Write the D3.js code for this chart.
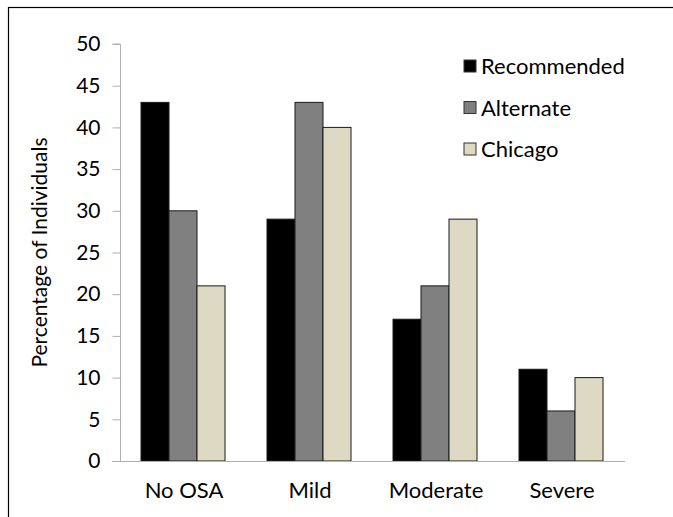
<!DOCTYPE html>
<html>
<head>
<meta charset="utf-8">
<script src="https://cdn.jsdelivr.net/npm/d3@7"></script>
<style>
  body { margin: 0; background: #fff; }
  text { font-family: Lato, "Liberation Sans", sans-serif; fill: #000; }
</style>
</head>
<body>
<div id="chart"></div>
<script>
var width = 673;
var height = 517;

// data
var categories = ["No OSA", "Mild", "Moderate", "Severe"];
var seriesNames = ["Recommended", "Alternate", "Chicago"];
var recommended = [43, 29, 17, 11];
var alternate = [30, 43, 21, 6];
var chicago = [21, 40, 29, 10];
var yTicks = [0, 5, 10, 15, 20, 25, 30, 35, 40, 45, 50];

var colors = ["#000000", "#808080", "#ddd9c3"];
var seriesValues = [recommended, alternate, chicago];

var svg = d3.select("#chart").append("svg")
    .attr("width", width)
    .attr("height", height);

// outer frame (only top and left edges are visible)
svg.append("rect")
    .attr("x", 8.5).attr("y", 7.5)
    .attr("width", 700).attr("height", 600)
    .attr("fill", "none")
    .attr("stroke", "#000")
    .attr("stroke-width", 1.2);

var x0 = d3.scaleBand()
    .domain(categories)
    .range([121, 625])
    .padding(0);

var x1 = d3.scaleBand()
    .domain(seriesNames)
    .range([20, x0.bandwidth() - 22])
    .padding(0);

var y = d3.scaleLinear()
    .domain([0, 50])
    .range([461, 44]);

// y axis
var yAxis = svg.append("g")
    .attr("transform", "translate(120.5,0)")
    .call(d3.axisLeft(y).tickValues(yTicks).tickSize(8).tickPadding(12));
yAxis.select(".domain").attr("stroke", "#b0b0b0").attr("d", "M-8," + y(50) + "H0V" + y(0));
yAxis.selectAll(".tick line").attr("stroke", "#b0b0b0");
yAxis.selectAll(".tick text")
    .style("font-size", "21px")
    .style("font-family", "Lato, sans-serif")
    .attr("fill", "#000");

// bars
var groups = svg.append("g").selectAll("g")
    .data(categories)
    .enter().append("g")
    .attr("transform", function(d) { return "translate(" + x0(d) + ",0)"; });

groups.selectAll("rect")
    .data(function(d, i) {
        return seriesNames.map(function(s, j) {
            return { series: s, value: seriesValues[j][i], color: colors[j] };
        });
    })
    .enter().append("rect")
    .attr("x", function(d) { return x1(d.series); })
    .attr("y", function(d) { return y(d.value); })
    .attr("width", x1.bandwidth())
    .attr("height", function(d) { return y(0) - y(d.value); })
    .attr("fill", function(d) { return d.color; })
    .attr("stroke", "#1a1a1a")
    .attr("stroke-width", 1);

// x axis baseline
var xAxis = svg.append("g")
    .attr("transform", "translate(0," + y(0) + ")")
    .call(d3.axisBottom(x0).tickSize(0).tickPadding(21));
xAxis.select(".domain").attr("stroke", "#b0b0b0").attr("d", "M112,0.5H625");
xAxis.selectAll(".tick text")
    .style("font-size", "22px")
    .style("font-family", "Lato, sans-serif")
    .attr("fill", "#000");

// y title
svg.append("text")
    .attr("transform", "translate(47," + ((y(0) + y(50)) / 2) + ") rotate(-90)")
    .attr("text-anchor", "middle")
    .style("font-size", "21px")
    .text("Percentage of Individuals");

// legend
var legend = svg.append("g").selectAll("g")
    .data(seriesNames)
    .enter().append("g")
    .attr("transform", function(d, i) { return "translate(464," + (60 + i * 41.5) + ")"; });

legend.append("rect")
    .attr("width", 12).attr("height", 12)
    .attr("fill", function(d, i) { return colors[i]; })
    .attr("stroke", "#333")
    .attr("stroke-width", 1);

legend.append("text")
    .attr("x", 17)
    .attr("y", 14)
    .style("font-size", "22px")
    .text(function(d) { return d; });
</script>
</body>
</html>
